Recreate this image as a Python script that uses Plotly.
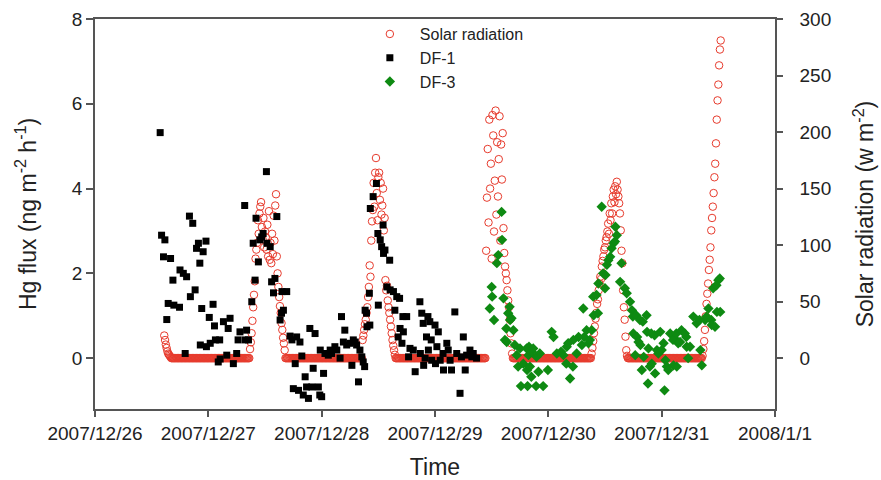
import pandas as pd
import plotly.graph_objects as go

# ---------------- data ----------------
# Solar radiation (W m-2), regular 10-minute record starting 2007-12-26 14:40
SOLAR_START = "2007-12-26 14:40"
SOLAR_STEP_MIN = 10
SOLAR_W_M2 = [
    # 12/26 afternoon decay (11)
    20, 16, 12, 9, 6, 4, 3, 2, 1, 0, 0,
    # night 1 (98)
    0, 0, 0, 0, 0, 0, 0, 0, 0, 0,
    0, 0, 0, 0, 0, 0, 0, 0, 0, 0,
    0, 0, 0, 0, 0, 0, 0, 0, 0, 0,
    0, 0, 0, 0, 0, 0, 0, 0, 0, 0,
    0, 0, 0, 0, 0, 0, 0, 0, 0, 0,
    0, 0, 0, 0, 0, 0, 0, 0, 0, 0,
    0, 0, 0, 0, 0, 0, 0, 0, 0, 0,
    0, 0, 0, 0, 0, 0, 0, 0, 0, 0,
    0, 0, 0, 0, 0, 0, 0, 0, 0, 0,
    0, 0, 0, 0, 0, 0, 0, 0,
    # 12/27 day (45)
    8, 14, 22, 33, 45, 56, 68, 88, 96, 102,
    122, 110, 128, 134, 138, 116, 105, 124, 98, 112,
    107, 96, 118, 90, 130, 87, 102, 84, 110, 92,
    126, 104, 135, 145, 90, 75, 63, 54, 46, 40,
    31, 25, 18, 13, 7,
    # night 2 (98)
    0, 0, 0, 0, 0, 0, 0, 0, 0, 0,
    0, 0, 0, 0, 0, 0, 0, 0, 0, 0,
    0, 0, 0, 0, 0, 0, 0, 0, 0, 0,
    0, 0, 0, 0, 0, 0, 0, 0, 0, 0,
    0, 0, 0, 0, 0, 0, 0, 0, 0, 0,
    0, 0, 0, 0, 0, 0, 0, 0, 0, 0,
    0, 0, 0, 0, 0, 0, 0, 0, 0, 0,
    0, 0, 0, 0, 0, 0, 0, 0, 0, 0,
    0, 0, 0, 0, 0, 0, 0, 0, 0, 0,
    0, 0, 0, 0, 0, 0, 0, 0,
    # 12/28 day (42)
    16, 20, 25, 30, 34, 40, 45, 54, 63, 82,
    72, 104, 121, 131, 155, 134, 164, 177, 146, 122,
    160, 164, 140, 155, 127, 135, 150, 113, 124, 69,
    60, 64, 51, 45, 40, 34, 28, 22, 16, 11,
    7, 3,
    # night 3 (115)
    0, 0, 0, 0, 0, 0, 0, 0, 0, 0,
    0, 0, 0, 0, 0, 0, 0, 0, 0, 0,
    0, 0, 0, 0, 0, 0, 0, 0, 0, 0,
    0, 0, 0, 0, 0, 0, 0, 0, 0, 0,
    0, 0, 0, 0, 0, 0, 0, 0, 0, 0,
    0, 0, 0, 0, 0, 0, 0, 0, 0, 0,
    0, 0, 0, 0, 0, 0, 0, 0, 0, 0,
    0, 0, 0, 0, 0, 0, 0, 0, 0, 0,
    0, 0, 0, 0, 0, 0, 0, 0, 0, 0,
    0, 0, 0, 0, 0, 0, 0, 0, 0, 0,
    0, 0, 0, 0, 0, 0, 0, 0, 0, 0,
    0, 0, 0, 0, 0,
    # 12/29 day (34)
    95, 142, 185, 120, 211, 150, 172, 88, 215, 197,
    112, 157, 219, 127, 191, 143, 176, 214, 104, 189,
    158, 199, 115, 93, 81, 75, 69, 60, 51, 45,
    34, 22, 13, 4,
    # night 4 (100)
    0, 0, 0, 0, 0, 0, 0, 0, 0, 0,
    0, 0, 0, 0, 0, 0, 0, 0, 0, 0,
    0, 0, 0, 0, 0, 0, 0, 0, 0, 0,
    0, 0, 0, 0, 0, 0, 0, 0, 0, 0,
    0, 0, 0, 0, 0, 0, 0, 0, 0, 0,
    0, 0, 0, 0, 0, 0, 0, 0, 0, 0,
    0, 0, 0, 0, 0, 0, 0, 0, 0, 0,
    0, 0, 0, 0, 0, 0, 0, 0, 0, 0,
    0, 0, 0, 0, 0, 0, 0, 0, 0, 0,
    0, 0, 0, 0, 0, 0, 0, 0, 0, 0,
    # 12/30 day (46)
    4, 9, 15, 22, 28, 35, 40, 48, 52, 60,
    66, 72, 70, 81, 86, 90, 96, 98, 104, 107,
    112, 119, 110, 128, 122, 137, 128, 143, 149, 138,
    152, 145, 156, 149, 143, 137, 128, 113, 95, 84,
    60, 45, 34, 19, 7, 2,
    # night 5 (95)
    0, 0, 0, 0, 0, 0, 0, 0, 0, 0,
    0, 0, 0, 0, 0, 0, 0, 0, 0, 0,
    0, 0, 0, 0, 0, 0, 0, 0, 0, 0,
    0, 0, 0, 0, 0, 0, 0, 0, 0, 0,
    0, 0, 0, 0, 0, 0, 0, 0, 0, 0,
    0, 0, 0, 0, 0, 0, 0, 0, 0, 0,
    0, 0, 0, 0, 0, 0, 0, 0, 0, 0,
    0, 0, 0, 0, 0, 0, 0, 0, 0, 0,
    0, 0, 0, 0, 0, 0, 0, 0, 0, 0,
    0, 0, 0, 0, 0,
    # 12/31 morning (24)
    2, 8, 15, 25, 37, 48, 57, 66, 78, 87,
    98, 113, 124, 134, 146, 160, 172, 190, 211, 228,
    242, 259, 273, 281,
]

# Hg flux DF-1 (hours since 2007-12-26 00:00, ng m-2 h-1)
DF1_HOURS = [
    13.8, 14.1, 14.5, 14.8, 15.2, 15.5, 16.0, 16.5, 16.7, 17.9,
    18.0, 18.7, 19.1, 19.4, 20.0, 20.2, 20.7, 21.2, 21.5, 21.9,
    22.2, 22.3, 22.6, 22.9, 23.5, 23.6, 24.2, 24.4, 25.0, 25.3,
    25.5, 26.1, 26.4, 26.5, 27.2, 27.9, 28.2, 28.6, 29.3, 30.0,
    30.3, 30.7, 31.7, 31.8, 32.1, 32.5, 33.2, 33.5, 33.9, 34.1,
    34.6, 34.9, 35.3, 35.6, 36.3, 36.4, 37.1, 37.4, 37.8, 38.1,
    38.5, 39.2, 39.5, 39.6, 39.9, 40.6, 41.3, 41.7, 42.0, 42.4,
    42.7, 43.1, 43.4, 43.8, 44.1, 44.5, 44.8, 45.2, 45.5, 45.9,
    46.2, 46.6, 47.3, 47.6, 47.7, 48.0, 48.4, 48.7, 49.4, 49.8,
    50.1, 50.8, 51.2, 51.9, 52.2, 52.6, 52.9, 53.3, 54.0, 54.4,
    54.7, 55.1, 55.4, 55.8, 56.1, 56.5, 56.8, 57.1, 57.2, 57.5,
    57.6, 58.1, 58.2, 58.3, 58.9, 59.6, 59.9, 60.0, 60.4, 60.7,
    61.0, 61.1, 61.4, 61.8, 62.4, 62.5, 63.2, 63.5, 63.9, 64.2,
    64.5, 64.6, 65.0, 65.2, 65.3, 66.0, 66.4, 66.7, 67.4, 67.8,
    68.8, 68.9, 69.2, 69.5, 69.6, 69.9, 70.2, 70.5, 70.6, 70.9,
    71.2, 71.3, 72.0, 72.1, 72.4, 72.7, 73.1, 73.7, 73.8, 74.5,
    74.8, 75.2, 75.5, 76.2, 76.6, 77.3, 77.6, 78.0, 78.4, 78.7,
    79.4, 79.8, 80.1, 80.8,
]
DF1_FLUX = [
    5.32, 2.90, 2.39, 2.79, 0.91, 1.29, 2.35, 1.84, 1.25, 1.20,
    2.08, 2.00, 0.11, 1.92, 3.35, 1.45, 3.18, 1.61, 2.59, 2.71,
    2.24, 0.31, 1.17, 2.51, 2.76, 0.27, 0.96, 0.35, 1.27, 0.76,
    0.43, -0.09, 0.43, -0.02, 0.86, 0.07, 0.70, 0.94, -0.13, 0.11,
    0.43, 0.62, 3.60, 0.43, 0.66, 0.43, 1.33, 2.71, 1.84, 3.30,
    2.27, 2.79, 2.86, 2.94, 4.40, 2.71, 2.63, 1.80, 1.54, 1.88,
    3.34, 0.90, 1.06, 1.57, 1.13, 1.57, 0.52, 0.43, -0.72, -0.13,
    0.50, -0.76, 0.38, 0.05, -0.87, -0.44, -0.68, -0.95, 0.70, -0.68,
    -0.24, 0.58, -0.68, -0.87, 0.19, -0.91, -0.36, 0.11, 0.07, 0.19,
    0.11, 0.27, 0.19, 0.00, 0.98, 0.38, 0.66, 0.31, 0.35, -0.17,
    0.43, 0.38, 0.31, -0.56, 0.19, 0.03, -0.09, -0.20, 1.13, 1.06,
    0.74, 1.53, 0.78, 3.53, 3.81, 4.12, 2.94, 1.25, 2.79, 2.63,
    3.14, 2.47, 2.55, 1.68, 2.31, 1.61, 1.57, 1.13, 1.45, 0.50,
    1.41, 0.70, 0.35, 0.98, 0.62, 0.98, 0.03, 0.23, 0.19, -0.32,
    1.33, 0.11, 1.06, 0.82, -0.17, 0.00, 0.50, 0.98, 0.19, 0.86,
    0.43, -0.05, 0.78, -0.13, 0.27, 0.62, -0.05, 0.11, -0.28, 0.35,
    0.19, -0.05, -0.28, 1.09, 0.11, -0.83, 0.03, 0.50, -0.28, 0.07,
    0.19, 0.03, 0.11, 0.00,
]

# Hg flux DF-3 (hours since 2007-12-26 00:00, ng m-2 h-1)
DF3_HOURS = [
    83.6, 84.0, 84.1, 84.5, 85.1, 85.4, 86.1, 86.2, 86.5, 86.8,
    87.1, 87.2, 87.5, 87.8, 87.9, 88.2, 88.6, 88.9, 89.3, 89.6,
    90.0, 90.2, 90.7, 91.4, 91.5, 91.6, 91.8, 91.9, 92.1, 92.4,
    92.5, 92.8, 93.4, 93.5, 93.9, 94.2, 94.9, 95.9, 96.7, 97.1,
    97.8, 98.7, 99.2, 99.8, 99.9, 100.2, 100.6, 101.2, 101.3, 102.0,
    102.4, 103.1, 103.4, 103.6, 104.1, 104.5, 104.8, 105.2, 105.5, 105.6,
    106.2, 106.5, 106.6, 107.3, 107.6, 108.0, 108.1, 108.4, 108.7, 109.1,
    109.4, 109.8, 110.1, 110.2, 110.5, 111.2, 111.5, 112.2, 112.6, 113.3,
    113.7, 113.9, 114.0, 114.4, 114.6, 114.8, 115.1, 115.4, 115.5, 115.8,
    116.0, 116.2, 116.8, 116.9, 117.1, 117.2, 117.5, 117.8, 117.9, 118.5,
    118.6, 119.0, 119.3, 119.7, 120.0, 120.4, 120.6, 120.8, 121.1, 121.4,
    121.8, 122.4, 122.5, 122.8, 123.1, 123.2, 123.5, 123.9, 124.2, 124.9,
    125.2, 125.3, 125.6, 126.0, 126.7, 127.4, 128.0, 128.2, 128.5, 129.2,
    129.5, 129.9, 130.5, 130.6, 130.9, 131.3, 131.6, 131.7, 132.0, 132.3,
    132.4,
]
DF3_FLUX = [
    1.17, 1.68, 1.45, 0.90, 2.24, 2.43, 3.45, 2.79, 1.41, 0.43,
    0.70, 0.38, 1.06, 1.21, 0.90, 0.94, 0.66, 0.31, 0.07, -0.20,
    0.23, -0.66, -0.13, 0.23, -0.28, -0.66, 0.07, 0.27, -0.20, -0.44,
    0.15, 0.23, -0.66, 0.03, -0.32, 0.11, -0.66, -0.28, 0.62, 0.50,
    0.11, 0.15, 0.07, -0.13, 0.27, 0.35, -0.48, -0.20, 0.43, 0.11,
    0.50, 0.31, 1.17, 0.50, 0.66, 0.35, 0.43, 0.66, 1.45, 1.01,
    1.49, 1.06, 1.76, 3.57, 2.00, 1.65, 1.96, 2.20, 2.31, 2.39,
    2.59, 2.71, 2.75, 3.10, 2.90, 1.80, 2.24, 1.65, 1.53, 1.33,
    1.13, 0.98, 0.58, 0.07, 1.01, 0.50, 0.38, 0.90, 0.31, -0.28,
    0.86, 0.03, 1.01, 0.62, -0.60, 0.23, -0.20, 0.58, -0.13, 0.54,
    -0.36, 0.19, 0.11, 0.62, 0.19, 0.35, -0.76, -0.05, -0.20, -0.28,
    0.58, 0.43, -0.17, 0.46, 0.58, -0.20, 0.35, 0.38, 0.66, 0.58,
    0.50, 0.27, 0.00, 0.27, 0.98, 0.82, 0.90, 0.19, -0.17, 0.90,
    0.98, 1.17, 0.90, 0.78, 1.65, 0.74, 1.72, 1.09, 1.84, 1.88,
    1.09,
]

X_TICKS = ["2007-12-26", "2007-12-27", "2007-12-28", "2007-12-29",
           "2007-12-30", "2007-12-31", "2008-01-01"]
X_TICK_LABELS = ["2007/12/26", "2007/12/27", "2007/12/28", "2007/12/29",
                 "2007/12/30", "2007/12/31", "2008/1/1"]
FLUX_TICKS = [0, 2, 4, 6, 8]
SOLAR_TICKS = [0, 50, 100, 150, 200, 250, 300]

# ---------------- build ----------------
origin = pd.Timestamp("2007-12-26 00:00")
solar_t = pd.date_range(SOLAR_START, periods=len(SOLAR_W_M2), freq=f"{SOLAR_STEP_MIN}min")
df1_t = origin + pd.to_timedelta(DF1_HOURS, unit="h")
df3_t = origin + pd.to_timedelta(DF3_HOURS, unit="h")

RED = "#e73b2d"
GREEN = "#0e8a12"
AXIS = "#555555"
TXT = "#222222"

fig = go.Figure()
fig.add_trace(go.Scatter(
    x=solar_t, y=SOLAR_W_M2, mode="markers", name="Solar radiation", yaxis="y",
    marker=dict(symbol="circle-open", size=7.5, color=RED, line=dict(width=1, color=RED)),
))
fig.add_trace(go.Scatter(
    x=df1_t, y=DF1_FLUX, mode="markers", name="DF-1", yaxis="y2",
    marker=dict(symbol="square", size=7, color="#000000", line=dict(width=0)),
))
fig.add_trace(go.Scatter(
    x=df3_t, y=DF3_FLUX, mode="markers", name="DF-3", yaxis="y2",
    marker=dict(symbol="diamond", size=8, color=GREEN, line=dict(width=0)),
))

TICKFONT = dict(size=19, color=TXT)
TITLEFONT = dict(size=23, color=TXT)

fig.update_layout(
    width=881, height=480,
    margin=dict(l=95, r=106, t=19, b=71, autoexpand=False),
    paper_bgcolor="white", plot_bgcolor="white",
    font=dict(family="Liberation Sans, Arial, sans-serif", color=TXT),
    showlegend=True,
    legend=dict(x=0.3895, y=1.005, xanchor="left", yanchor="top",
                bgcolor="rgba(0,0,0,0)", font=dict(size=16, color=TXT),
                itemwidth=50, tracegroupgap=0),
    xaxis=dict(
        type="date", range=["2007-12-26", "2008-01-01"], automargin=False,
        tickmode="array", tickvals=X_TICKS, ticktext=X_TICK_LABELS,
        ticks="outside", ticklen=6, tickwidth=1.5, tickcolor=AXIS,
        ticklabelstandoff=0,
        showline=True, linecolor=AXIS, linewidth=1.5, mirror=True,
        showgrid=False, zeroline=False,
        tickfont=TICKFONT,
        title=dict(text="Time", font=TITLEFONT, standoff=21),
    ),
    yaxis=dict(
        side="right", range=[-45, 300], automargin=False,
        tickmode="array", tickvals=SOLAR_TICKS,
        ticks="outside", ticklen=6, tickwidth=1.5, tickcolor=AXIS,
        ticklabelstandoff=13,
        showline=True, linecolor=AXIS, linewidth=1.5,
        showgrid=False, zeroline=False,
        tickfont=TICKFONT,
        title=dict(text="Solar radiation (w m<sup>-2</sup>)", font=TITLEFONT, standoff=27),
    ),
    yaxis2=dict(
        side="left", overlaying="y", anchor="x", range=[-1.2, 8], automargin=False,
        tickmode="array", tickvals=FLUX_TICKS,
        ticks="outside", ticklen=7, tickwidth=1.5, tickcolor=AXIS,
        showline=True, linecolor=AXIS, linewidth=1.5,
        showgrid=False, zeroline=False,
        tickfont=TICKFONT,
        title=dict(text="Hg flux (ng m<sup>-2</sup> h<sup>-1</sup>)", font=TITLEFONT, standoff=29),
    ),
)

fig.write_html("out.html")
